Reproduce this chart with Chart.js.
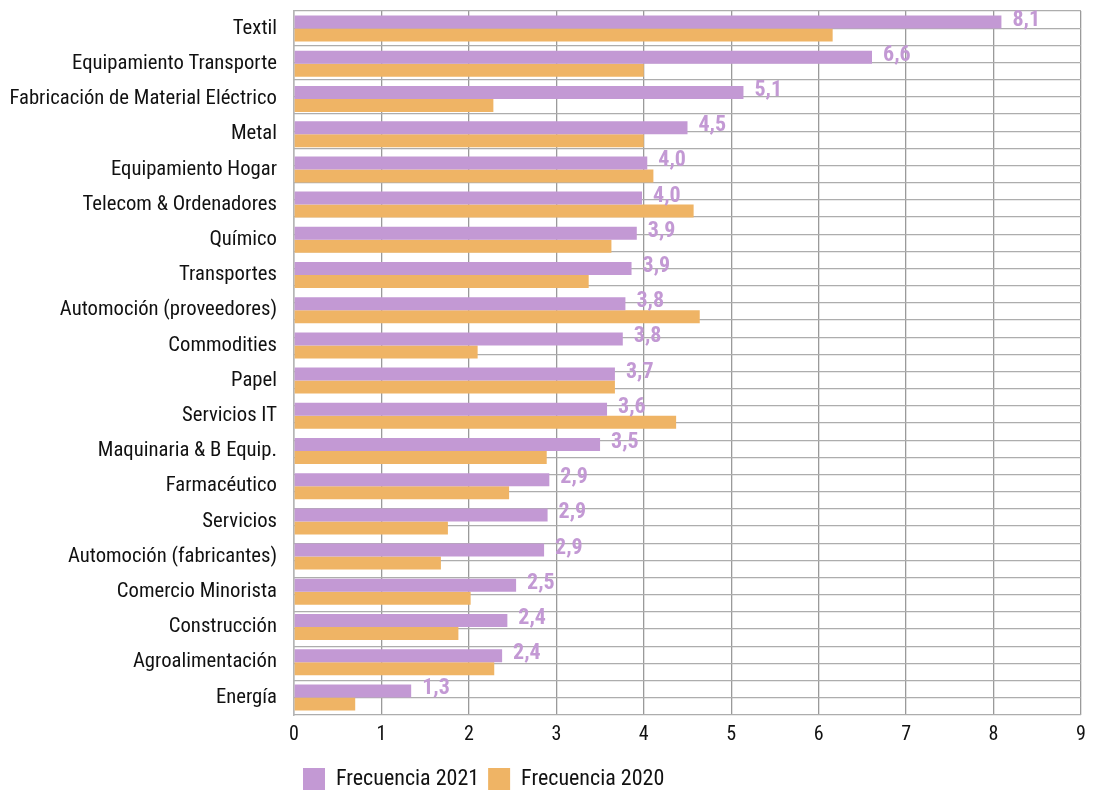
<!DOCTYPE html>
<html>
<head>
<meta charset="utf-8">
<script src="https://cdn.jsdelivr.net/npm/chart.js@4/dist/chart.umd.min.js"></script>
<style>
  html, body { margin: 0; padding: 0; background: #fff; }
  #wrap { width: 1095px; height: 792px; }
</style>
</head>
<body>
<div id="wrap"><canvas id="chartBar" width="1095" height="792"></canvas></div>
<script>
// sectores y frecuencias
const sectores = ['Textil', 'Equipamiento Transporte', 'Fabricación de Material Eléctrico', 'Metal',
  'Equipamiento Hogar', 'Telecom & Ordenadores', 'Químico', 'Transportes', 'Automoción (proveedores)',
  'Commodities', 'Papel', 'Servicios IT', 'Maquinaria & B Equip.', 'Farmacéutico', 'Servicios',
  'Automoción (fabricantes)', 'Comercio Minorista', 'Construcción', 'Agroalimentación', 'Energía'];
const frec2021 = [8.09, 6.61, 5.14, 4.5, 4.04, 3.98, 3.92, 3.86, 3.79, 3.76, 3.67, 3.58, 3.5, 2.92, 2.9, 2.86, 2.54, 2.44, 2.38, 1.34];
const frec2020 = [6.16, 4.0, 2.28, 4.0, 4.11, 4.57, 3.63, 3.37, 4.64, 2.1, 3.67, 4.37, 2.89, 2.46, 1.76, 1.68, 2.02, 1.88, 2.29, 0.7];
const ticksX = [0, 1, 2, 3, 4, 5, 6, 7, 8, 9];

const FONT = "'Roboto Condensed', 'Liberation Sans Narrow', 'DejaVu Sans Condensed', 'Noto Sans', sans-serif";
const MORADO = '#c399d4';
const NARANJA = '#efb465';

// etiquetas de valor sobre las barras de 2021
const etiquetas = {
  id: 'etiquetas',
  afterDatasetsDraw(chart) {
    const ctx = chart.ctx;
    const meta = chart.getDatasetMeta(0);
    ctx.save();
    ctx.font = "bold 22px " + FONT;
    ctx.fillStyle = MORADO;
    ctx.textBaseline = 'middle';
    ctx.textAlign = 'left';
    meta.data.forEach(function(bar, i){
      const txt = frec2021[i].toFixed(1).replace('.', ',');
      ctx.fillText(txt, bar.x + 11, bar.y - 2);
    });
    ctx.restore();
  }
};

const ctx = document.getElementById('chartBar').getContext('2d');
new Chart(ctx, {
  type: 'bar',
  data: {
    labels: sectores,
    datasets: [
      { label: 'Frecuencia 2021', data: frec2021, backgroundColor: MORADO },
      { label: 'Frecuencia 2020', data: frec2020, backgroundColor: NARANJA }
    ]
  },
  options: {
    indexAxis: 'y',
    responsive: false,
    animation: false,
    layout: { padding: { top: 11, right: 14, left: 0, bottom: -8 } },
    datasets: { bar: { barPercentage: 1, categoryPercentage: 0.74 } },
    scales: {
      x: {
        min: 0, max: 9,
        afterBuildTicks: function(s){ s.ticks = ticksX.map(function(v){ return { value: v }; }); },
        afterFit: function(s){ s.height += 4; },
        grid: { color: '#9a9a9a', lineWidth: 1.3, drawTicks: false },
        border: { display: false },
        ticks: { color: '#111', padding: 8, font: { family: FONT, size: 20 } }
      },
      y: {
        grid: { display: false },
        border: { display: true, color: '#b5b5b5', width: 1.5 },
        afterFit: function(s){ s.width = 294; s.paddingTop = 0; s.paddingBottom = 0; },
        ticks: { color: '#111', padding: 9, font: { family: FONT, size: 20.7 } }
      },
      yGrid: {
        type: 'linear', position: 'left', min: 0, max: 20,
        afterBuildTicks: function(s){
          const t = [];
          for (let k = 0; k <= 40; k++) t.push({ value: k / 2 });
          s.ticks = t;
        },
        afterFit: function(s){ s.width = 0; s.paddingTop = 0; s.paddingBottom = 0; },
        ticks: { display: false },
        border: { display: false },
        grid: { color: '#adadad', lineWidth: 1.3, drawTicks: false }
      }
    },
    plugins: {
      tooltip: { enabled: false },
      legend: {
        position: 'bottom',
        align: 'start',
        fullSize: false,
        labels: {
          color: '#111',
          boxWidth: 22, boxHeight: 22, padding: 9,
          font: { family: FONT, size: 22 }
        }
      }
    }
  },
  plugins: [etiquetas]
});
</script>
</body>
</html>
